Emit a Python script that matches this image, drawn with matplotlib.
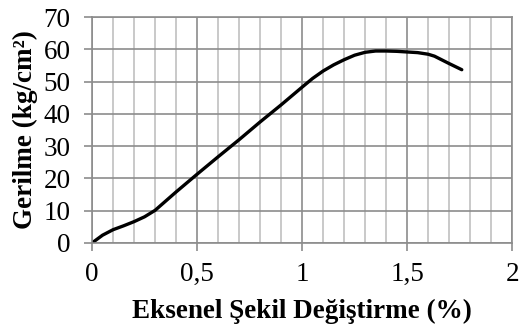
import numpy as np
import matplotlib.pyplot as plt
from matplotlib.ticker import MultipleLocator, FuncFormatter

# Gerilme - eksenel şekil değiştirme eğrisi
strain = [0, 0.05, 0.1, 0.15, 0.2, 0.25, 0.3, 0.4, 0.5, 0.6, 0.7, 0.8, 0.9,
          1.0, 1.05, 1.1, 1.15, 1.2, 1.25, 1.3, 1.35, 1.4, 1.45, 1.5, 1.55,
          1.6, 1.63, 1.7, 1.76]
stress = [0, 2.4, 4.1, 5.3, 6.6, 8.1, 10.1, 15.8, 21.3, 26.7, 32.0, 37.5, 42.8,
          48.3, 51.0, 53.3, 55.2, 56.8, 58.2, 59.1, 59.5, 59.5, 59.4, 59.2, 59.0,
          58.5, 57.9, 55.6, 53.7]

plt.rcParams['font.family'] = ['Liberation Serif', 'DejaVu Serif']

fig = plt.figure(figsize=(5.2, 3.36), dpi=100)
ax = fig.add_axes([0.177, 0.277, 0.808, 0.672])

ax.plot(strain, stress, color='black', linewidth=2.4,
        solid_capstyle='round', solid_joinstyle='round')

ax.set_xlim(0, 2)
ax.set_ylim(0, 70)
ax.xaxis.set_major_locator(MultipleLocator(0.5))
ax.xaxis.set_minor_locator(MultipleLocator(0.1))
ax.yaxis.set_major_locator(MultipleLocator(10))
ax.xaxis.set_major_formatter(FuncFormatter(lambda v, p: f"{v:g}".replace('.', ',')))

ax.grid(which='minor', axis='x', color='#c0c0c0', linewidth=1.2)
ax.grid(which='major', color='#8c8c8c', linewidth=1.2)
ax.set_axisbelow(True)

for s in ax.spines.values():
    s.set_color('#8c8c8c')
    s.set_linewidth(1.2)

ax.tick_params(which='major', length=5.5, width=1.2, color='#8c8c8c', labelsize=19.5)
ax.tick_params(which='minor', length=0)
ax.tick_params(axis='x', pad=8)
ax.tick_params(axis='y', pad=10)

ax.set_xlabel('Eksenel Şekil Değiştirme (%)', fontsize=19.5, fontweight='bold', labelpad=9)
ax.set_ylabel('Gerilme (kg/cm²)', fontsize=19.5, fontweight='bold', labelpad=4)

fig.savefig('out.png', dpi=100)
